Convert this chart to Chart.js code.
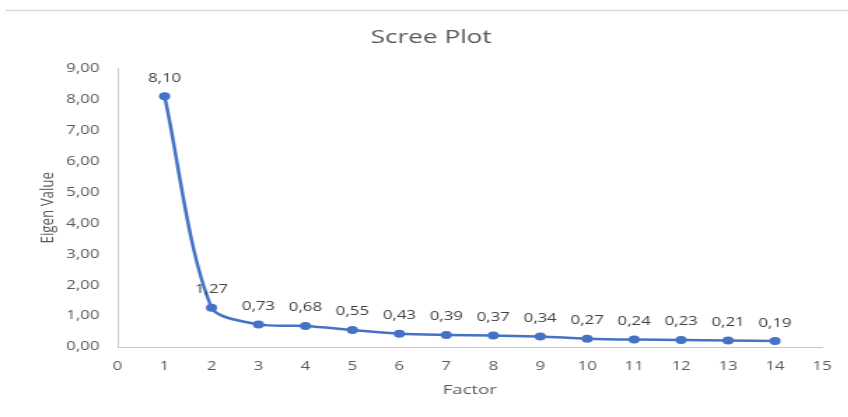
<!DOCTYPE html>
<html>
<head>
<meta charset="utf-8">
<title>Scree Plot</title>
<script src="https://cdn.jsdelivr.net/npm/chart.js@4/dist/chart.umd.min.js"></script>
<style>
  html, body { margin: 0; padding: 0; background: #ffffff; overflow: hidden; }
  /* chart is laid out at a narrower width and widened horizontally */
  #wrap { position: absolute; left: 0; top: 0; width: 606px; height: 417px;
          transform: scaleX(1.4); transform-origin: 0 0; }
</style>
</head>
<body>
<div id="wrap"><canvas id="scree"></canvas></div>
<script>
// Eigenvalues per extracted factor
const factors = [1, 2, 3, 4, 5, 6, 7, 8, 9, 10, 11, 12, 13, 14];
const eigenValues = [8.10, 1.27, 0.73, 0.68, 0.55, 0.43, 0.39, 0.37, 0.34, 0.27, 0.24, 0.23, 0.21, 0.19];
const xTicks = [0, 1, 2, 3, 4, 5, 6, 7, 8, 9, 10, 11, 12, 13, 14, 15];
const yTicks = [0, 1, 2, 3, 4, 5, 6, 7, 8, 9];

const fmt = v => v.toFixed(2).replace('.', ',');
const FONT = "'Open Sans', 'Noto Sans', sans-serif";
const LINE_BLUE = '#4472C4';

// value labels above each point, plus the thin frame line at the top
const decorations = {
  id: 'decorations',
  beforeDraw(chart) {
    const { ctx, width } = chart;
    ctx.save();
    ctx.strokeStyle = '#d9d9d9';
    ctx.lineWidth = 1.5;
    ctx.beginPath();
    ctx.moveTo(4, 10.5);
    ctx.lineTo(width, 10.5);
    ctx.stroke();
    ctx.restore();
  },
  afterDatasetsDraw(chart) {
    const { ctx } = chart;
    const meta = chart.getDatasetMeta(0);
    ctx.save();
    ctx.font = '12px ' + FONT;
    ctx.fillStyle = '#404040';
    ctx.textAlign = 'center';
    ctx.textBaseline = 'middle';
    meta.data.forEach((pt, i) => {
      ctx.fillText(fmt(eigenValues[i]), pt.x, pt.y - 18);
    });
    ctx.restore();
  }
};

new Chart(document.getElementById('scree'), {
  type: 'scatter',
  data: {
    datasets: [{
      data: factors.map((f, i) => ({ x: f, y: eigenValues[i] })),
      showLine: true,
      borderColor: LINE_BLUE,
      backgroundColor: LINE_BLUE,
      borderWidth: 2.5,
      pointRadius: 4,
      pointHoverRadius: 4,
      pointBorderWidth: 0,
      tension: 0.3,
      clip: false
    }]
  },
  options: {
    responsive: true,
    maintainAspectRatio: false,
    animation: false,
    events: [],
    layout: { padding: { left: 26, right: 16, top: 0, bottom: 0 } },
    plugins: {
      legend: { display: false },
      tooltip: { enabled: false },
      title: {
        display: true,
        text: 'Scree Plot',
        color: '#595959',
        font: { family: FONT, size: 18.7, weight: 'normal', lineHeight: 1.2 },
        padding: { top: 26, bottom: 20 }
      }
    },
    scales: {
      x: {
        type: 'linear',
        min: 0,
        max: 15,
        afterBuildTicks(scale) { scale.ticks = xTicks.map(v => ({ value: v })); },
        afterFit(scale) { scale.height = 70; },
        grid: { display: true, color: 'rgba(0,0,0,0)', drawTicks: false },
        border: { display: true, color: '#c8c8c8', width: 1 },
        ticks: {
          color: '#595959',
          padding: 12,
          font: { family: FONT, size: 12 },
          callback: v => String(v)
        },
        title: {
          display: true,
          text: 'Factor',
          color: '#595959',
          font: { family: FONT, size: 13.3 },
          padding: { top: 0, bottom: 19 }
        }
      },
      y: {
        type: 'linear',
        min: 0,
        max: 9,
        afterBuildTicks(scale) { scale.ticks = yTicks.map(v => ({ value: v })); },
        afterFit(scale) { scale.width = 58; },
        grid: { display: true, color: 'rgba(0,0,0,0)', drawTicks: false },
        border: { display: true, color: '#c8c8c8', width: 1 },
        ticks: {
          color: '#595959',
          padding: 13,
          font: { family: FONT, size: 12 },
          callback: v => fmt(v)
        },
        title: {
          display: true,
          text: 'Eigen Value',
          color: '#595959',
          font: { family: FONT, size: 13.3 },
          padding: { top: 0, bottom: 0 }
        }
      }
    }
  },
  plugins: [decorations]
});
</script>
</body>
</html>
